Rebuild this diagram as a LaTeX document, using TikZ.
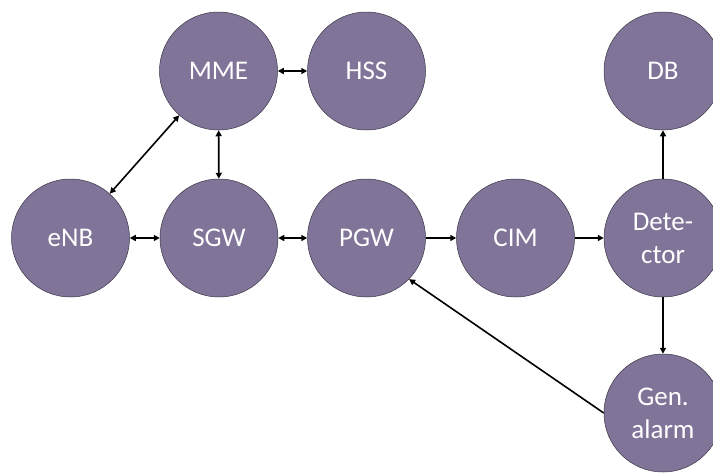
\documentclass[tikz,border=0pt]{standalone}
\usepackage{fontspec}
\setmainfont{Carlito}
\usetikzlibrary{arrows.meta}
\definecolor{nodefill}{RGB}{128,116,153}
\definecolor{nodeedge}{RGB}{60,55,70}
\tikzset{
  ent/.style={circle, minimum size=118pt, inner sep=0pt, fill=nodefill, draw=nodeedge, line width=0.5pt,
    text=white, font=\fontsize{27pt}{33pt}\selectfont, align=center},
  conn/.style={line width=1.6pt, -{Triangle[length=6pt,width=6pt]}},
  biconn/.style={line width=1.6pt, {Triangle[length=6pt,width=6pt]}-{Triangle[length=6pt,width=6pt]}}
}
\begin{document}
\begin{tikzpicture}[x=1pt,y=-1pt]
\useasboundingbox (0,0) rectangle (713,472);
\node[ent] (mme) at (218.5,71) {MME};
\node[ent] (hss) at (366.5,71) {HSS};
\node[ent] (db) at (663,71) {DB};
\node[ent] (enb) at (70.5,238) {eNB};
\node[ent] (sgw) at (219,238) {SGW};
\node[ent] (pgw) at (366.5,238) {PGW};
\node[ent] (cim) at (515.5,238) {CIM};
\node[ent] (det) at (663,238) {Dete-\\ctor};
\node[ent] (ga) at (663,413) {Gen.\\alarm};
\draw[biconn] (mme) -- (hss);
\draw[biconn] (mme) -- (sgw);
\draw[biconn] (enb) -- (mme);
\draw[biconn] (enb) -- (sgw);
\draw[biconn] (sgw) -- (pgw);
\draw[conn] (pgw) -- (cim);
\draw[conn] (cim) -- (det);
\draw[conn] (det) -- (db);
\draw[conn] (det) -- (ga);
\draw[conn] (ga.west) -- (pgw.-44);
\end{tikzpicture}
\end{document}
